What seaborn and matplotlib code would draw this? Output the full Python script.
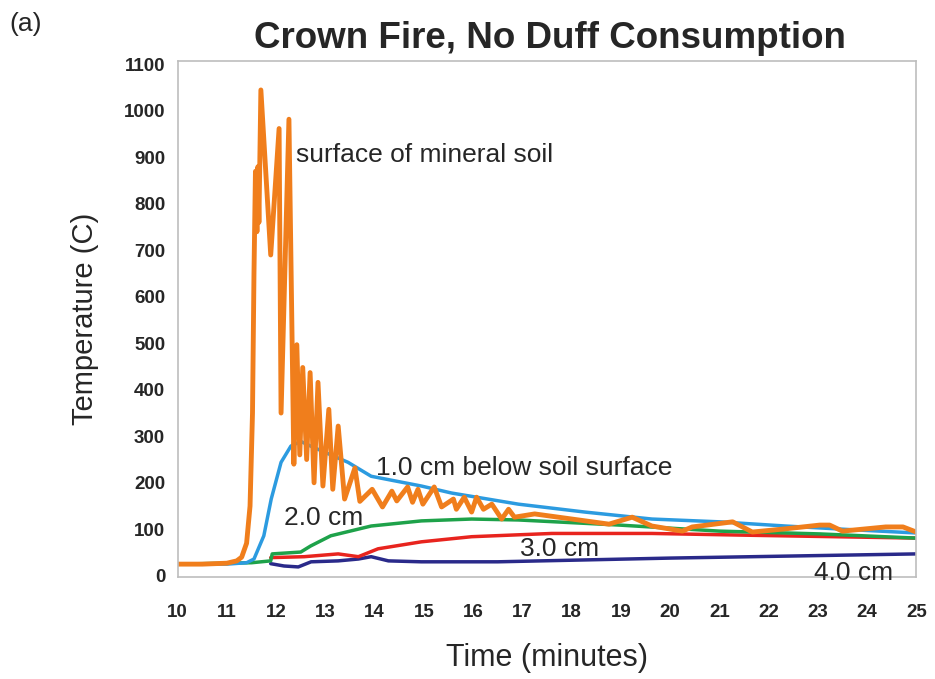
import numpy as np
import pandas as pd
import matplotlib
matplotlib.use("Agg")
import matplotlib.pyplot as plt
import seaborn as sns

# ---- data ----
surf_t = [10.0, 10.5, 11.0, 11.2, 11.3, 11.4, 11.47, 11.52, 11.55, 11.58, 11.61, 11.63, 11.65,
          11.69, 11.89, 12.06, 12.10, 12.26, 12.36, 12.42, 12.48, 12.54, 12.62, 12.69, 12.77,
          12.85, 12.95, 13.07, 13.15, 13.26, 13.39, 13.60, 13.70, 13.95, 14.16, 14.35, 14.45,
          14.67, 14.77, 14.88, 14.98, 15.21, 15.36, 15.60, 15.66, 15.82, 15.97, 16.07, 16.21,
          16.38, 16.58, 16.72, 16.84, 17.25, 18.76, 19.23, 19.63, 20.25, 20.45, 21.27, 21.67,
          22.35, 23.04, 23.24, 23.50, 24.38, 24.73, 25.0]
surf_T = [25, 25, 27, 32, 40, 70, 150, 350, 650, 870, 740, 880, 760,
          1045, 690, 962, 350, 982, 240, 497, 260, 448, 250, 437, 200,
          416, 193, 358, 186, 322, 165, 232, 160, 186, 148, 182, 161,
          191, 158, 186, 154, 191, 148, 165, 143, 169, 137, 169, 143,
          154, 122, 143, 126, 133, 111, 126, 107, 96, 105, 116, 94,
          101, 109, 109, 96, 105, 105, 94]

cm1_t = [10.0, 11.0, 11.4, 11.55, 11.75, 11.90, 12.10, 12.30, 12.50, 12.70, 13.46, 13.93,
         14.95, 15.56, 16.92, 18.27, 19.63, 21.0, 22.34, 23.70, 25.0]
cm1_T = [25, 25, 28, 36, 86, 165, 244, 279, 289, 279, 244, 214,
         193, 178, 154, 137, 122, 116, 107, 99, 92]

cm2_t = [10.0, 11.5, 11.89, 11.92, 12.5, 12.70, 13.11, 13.93, 14.95, 15.97, 16.92, 18.97,
         21.0, 23.04, 25.0]
cm2_T = [25, 28, 32, 47, 51, 64, 86, 107, 118, 122, 120, 109, 96, 90, 81]

cm3_t = [11.89, 12.57, 13.26, 13.67, 14.07, 14.95, 15.97, 17.6, 19.63, 21.67, 25.0]
cm3_T = [39, 41, 47, 41, 58, 73, 84, 91, 91, 87, 81]

cm4_t = [11.89, 12.16, 12.45, 12.71, 13.26, 13.67, 13.93, 14.28, 14.95, 15.97, 16.5, 20.0, 25.0]
cm4_T = [26, 21, 19, 30, 32, 36, 41, 32, 30, 30, 30, 38, 47]

series = ["surface", "1.0 cm", "2.0 cm", "3.0 cm", "4.0 cm"]
colors = {"surface": "#F07E1C", "1.0 cm": "#2C9BE0", "2.0 cm": "#1EA24A",
          "3.0 cm": "#E8241E", "4.0 cm": "#2A2A8A"}
widths = {"surface": 3.5, "1.0 cm": 2.5, "2.0 cm": 2.5, "3.0 cm": 2.5, "4.0 cm": 2.5}

x_ticks = list(range(10, 26))
y_ticks = list(range(0, 1101, 100))

frames = []
for name, t, T in [("surface", surf_t, surf_T), ("1.0 cm", cm1_t, cm1_T),
                   ("2.0 cm", cm2_t, cm2_T), ("3.0 cm", cm3_t, cm3_T),
                   ("4.0 cm", cm4_t, cm4_T)]:
    frames.append(pd.DataFrame({"t": t, "T": T, "series": name}))
df = pd.concat(frames, ignore_index=True)

sns.set_style("white")
plt.rcParams["font.family"] = ["Liberation Sans", "DejaVu Sans"]

fig = plt.figure(figsize=(9.35, 6.79), dpi=100)
ax = fig.add_axes([0.190, 0.150, 0.790, 0.760])

# draw lower series first, surface last on top
for name in ["4.0 cm", "3.0 cm", "2.0 cm", "1.0 cm", "surface"]:
    sub = df[df["series"] == name]
    sns.lineplot(data=sub, x="t", y="T", ax=ax, color=colors[name],
                 linewidth=widths[name], sort=False, estimator=None, legend=False)

ax.set_xlim(10, 25)
ax.set_ylim(-3, 1107)
ax.set_xticks(x_ticks)
ax.set_yticks(y_ticks)
ax.set_xticklabels([str(v) for v in x_ticks], fontsize=13.5, fontweight="bold")
ax.set_yticklabels([str(v) for v in y_ticks], fontsize=13.5, fontweight="bold")
ax.tick_params(axis="y", length=0, pad=9)
ax.tick_params(axis="x", length=0, pad=19)
for s in ax.spines.values():
    s.set_color("#bdbdbd")
    s.set_linewidth(1.2)

ax.set_xlabel("Time (minutes)", fontsize=22, labelpad=16)
ax.set_ylabel("Temperature (C)", fontsize=21, labelpad=18)

fs = 19
ax.text(12.40, 905, "surface of mineral soil", fontsize=fs, va="center", ha="left")
ax.text(14.03, 232, "1.0 cm below soil surface", fontsize=fs, va="center", ha="left")
ax.text(12.16, 124, "2.0 cm", fontsize=fs, va="center", ha="left")
ax.text(16.95, 58, "3.0 cm", fontsize=fs, va="center", ha="left")
ax.text(22.93, 7, "4.0 cm", fontsize=fs, va="center", ha="left", clip_on=False)

fig.text(0.588, 0.944, "Crown Fire, No Duff Consumption", fontsize=26.5,
         fontweight="bold", ha="center", va="center")
fig.text(0.010, 0.965, "(a)", fontsize=19, ha="left", va="center")

fig.savefig("out.png", dpi=100, facecolor="white")
